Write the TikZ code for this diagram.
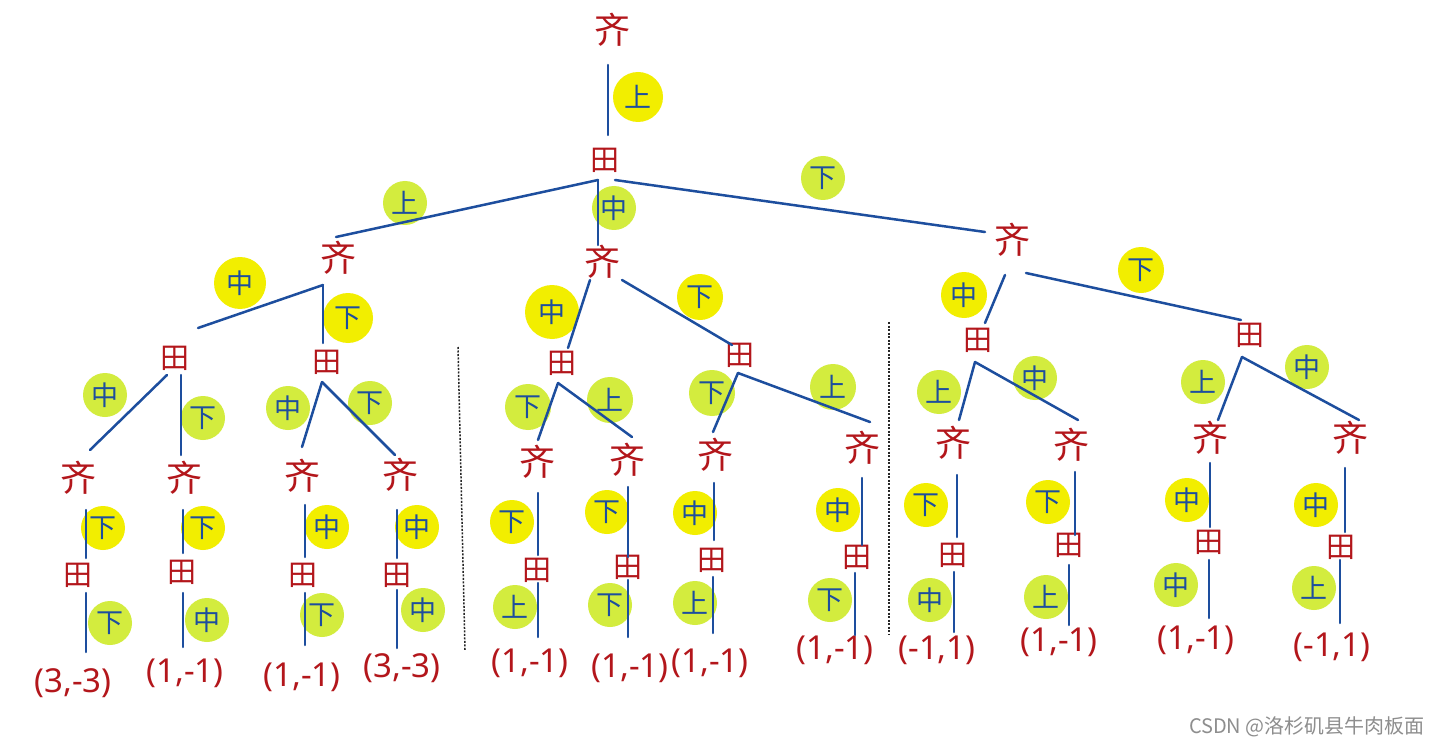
\documentclass[tikz,border=0pt]{standalone}
\usepackage{fontspec}
\setmainfont{Noto Sans}
\newfontfamily\cjk{Noto Sans CJK SC}
\definecolor{hred}{HTML}{B3161B}
\definecolor{hblue}{HTML}{1D4E9E}
\definecolor{hyel}{HTML}{F2EE00}
\definecolor{hgrn}{HTML}{D3EC3E}
\definecolor{wmark}{HTML}{8E8E8E}
\newcommand\E[6]{\draw[edge] ([shift={(#2,#3)}]#1.center) -- ([shift={(#5,#6)}]#4.center);}
\begin{document}
\begin{tikzpicture}[x=1pt,y=-1pt,
  qi/.style={text=hred, font=\cjk\fontsize{36}{36}\selectfont, inner sep=0pt},
  ti/.style={text=hred, font=\cjk\fontsize{29}{29}\selectfont, inner sep=0pt},
  res/.style={text=hred, font=\fontsize{33}{33}\selectfont, inner sep=0pt},
  edge/.style={draw=hblue, line width=2.5pt, line cap=round},
  ylab/.style={circle, fill=hyel, minimum size=44pt, inner sep=0pt, text=hblue, font=\cjk\fontsize{27}{27}\selectfont},
  glab/.style={ylab, fill=hgrn},
  divider/.style={draw=black!85, line width=1.5pt, dash pattern=on 2pt off 1.5pt}
]
\useasboundingbox (0,0) rectangle (1440,746);
\fill[white] (0,0) rectangle (1440,746);

% dividers
\draw[divider] (458,347) -- (465,650);
\draw[divider] (889,322) -- (889,635);

% label circles
\node[ylab, minimum size=50pt] (l0) at (638,97) {上};
\node[glab] (l1a) at (405,203) {上};
\node[glab] (l1b) at (614,208) {中};
\node[glab] (l1c) at (823,178) {下};
\node[ylab, minimum size=52pt] (l2a) at (240,283) {中};
\node[ylab, minimum size=50pt] (l2b) at (348,318) {下};
\node[ylab, minimum size=54pt] (l2c) at (552,312) {中};
\node[ylab, minimum size=46pt] (l2d) at (700,297) {下};
\node[ylab, minimum size=46pt] (l2e) at (964,295) {中};
\node[ylab, minimum size=46pt] (l2f) at (1141,270) {下};
\node[glab] (l3a) at (105,395) {中};
\node[glab] (l3b) at (203,418) {下};
\node[glab] (l3c) at (288,408) {中};
\node[glab] (l3d) at (370,403) {下};
\node[glab, minimum size=46pt] (l3e) at (528,407) {下};
\node[glab, minimum size=46pt] (l3f) at (610,400) {上};
\node[glab, minimum size=46pt] (l3g) at (712,393) {下};
\node[glab, minimum size=46pt] (l3h) at (833,387) {上};
\node[glab] (l3i) at (939,392) {上};
\node[glab] (l3j) at (1035,378) {中};
\node[glab] (l3k) at (1203,382) {上};
\node[glab] (l3l) at (1307,367) {中};
\node[ylab] (l4a) at (103,528) {下};
\node[ylab] (l4b) at (203,528) {下};
\node[ylab] (l4c) at (327,527) {中};
\node[ylab] (l4d) at (417,527) {中};
\node[ylab] (l4e) at (512,522) {下};
\node[ylab] (l4f) at (607,512) {下};
\node[ylab] (l4g) at (695,513) {中};
\node[ylab] (l4h) at (838,510) {中};
\node[ylab] (l4i) at (926,505) {下};
\node[ylab] (l4j) at (1048,502) {下};
\node[ylab] (l4k) at (1187,500) {中};
\node[ylab] (l4l) at (1316,505) {中};
\node[glab] (l5a) at (110,623) {下};
\node[glab] (l5b) at (207,620) {中};
\node[glab] (l5c) at (322,615) {下};
\node[glab] (l5d) at (423,610) {中};
\node[glab] (l5e) at (515,607) {上};
\node[glab] (l5f) at (610,605) {下};
\node[glab] (l5g) at (695,603) {上};
\node[glab] (l5h) at (830,600) {下};
\node[glab] (l5i) at (930,600) {中};
\node[glab] (l5j) at (1046,597) {上};
\node[glab] (l5k) at (1176,585) {中};
\node[glab] (l5l) at (1314,588) {上};

% Qi nodes
\node[qi] (q0) at (612,30) {齐};
\node[qi] (q1) at (338,258) {齐};
\node[qi] (q2) at (602,262) {齐};
\node[qi] (q3) at (1012,240) {齐};
\node[qi] (q111) at (78,478) {齐};
\node[qi] (q112) at (184,478) {齐};
\node[qi] (q121) at (302,476) {齐};
\node[qi] (q122) at (400,475) {齐};
\node[qi] (q211) at (537,462) {齐};
\node[qi] (q212) at (627,460) {齐};
\node[qi] (q221) at (715,455) {齐};
\node[qi] (q222) at (862,448) {齐};
\node[qi] (q311) at (953,443) {齐};
\node[qi] (q312) at (1071,445) {齐};
\node[qi] (q321) at (1210,438) {齐};
\node[qi] (q322) at (1350,438) {齐};

% Tian nodes
\node[ti] (t0) at (605,160) {田};
\node[ti] (t11) at (175,358) {田};
\node[ti] (t12) at (327,362) {田};
\node[ti] (t21) at (562,363) {田};
\node[ti] (t22) at (740,355) {田};
\node[ti] (t31) at (978,340) {田};
\node[ti] (t32) at (1250,335) {田};
\node[ti] (t111) at (78,575) {田};
\node[ti] (t112) at (182,572) {田};
\node[ti] (t121) at (303,575) {田};
\node[ti] (t122) at (397,575) {田};
\node[ti] (t211) at (537,570) {田};
\node[ti] (t212) at (628,567) {田};
\node[ti] (t221) at (712,560) {田};
\node[ti] (t222) at (857,557) {田};
\node[ti] (t311) at (953,555) {田};
\node[ti] (t312) at (1069,545) {田};
\node[ti] (t321) at (1209,542) {田};
\node[ti] (t322) at (1341,547) {田};

% results
\node[res] (r111) at (73,683) {(3,-3)};
\node[res] (r112) at (185,673) {(1,-1)};
\node[res] (r121) at (302,677) {(1,-1)};
\node[res] (r122) at (402,668) {(3,-3)};
\node[res] (r211) at (530,663) {(1,-1)};
\node[res] (r212) at (630,668) {(1,-1)};
\node[res] (r221) at (710,663) {(1,-1)};
\node[res] (r222) at (835,650) {(1,-1)};
\node[res] (r311) at (937,650) {(-1,1)};
\node[res] (r312) at (1059,642) {(1,-1)};
\node[res] (r321) at (1196,640) {(1,-1)};
\node[res] (r322) at (1332,647) {(-1,1)};

% edges: top
\E{q0}{-4}{35}{t0}{3}{-25}
\E{t0}{-7}{20}{q1}{-2}{-21}
\E{t0}{-7}{20}{q2}{-4}{-17}
\E{t0}{10}{20}{q3}{-27}{-8}
% left group
\E{q1}{-15}{27}{t11}{23}{-30}
\E{q1}{-15}{27}{t12}{-4}{-19}
\E{t11}{-8}{17}{q111}{12}{-28}
\E{t11}{6}{17}{q112}{-3}{-23}
\E{t12}{-5}{20}{q121}{0}{-29}
\E{t12}{-5}{20}{q122}{-5}{-20}
\E{q111}{8}{32}{t111}{8}{-17}
\E{t111}{8}{18}{r111}{13}{-31}
\E{q112}{-1}{32}{t112}{1}{-19}
\E{t112}{1}{21}{r112}{-2}{-26}
\E{q121}{3}{29}{t121}{2}{-18}
\E{t121}{2}{18}{r121}{3}{-32}
\E{q122}{-3}{35}{t122}{0}{-17}
\E{t122}{0}{15}{r122}{-5}{-20}
% middle group
\E{q2}{-12}{18}{t21}{6}{-15}
\E{q2}{20}{18}{t22}{-8}{-10}
\E{t21}{-4}{20}{q211}{1}{-22}
\E{t21}{-4}{20}{q212}{5}{-23}
\E{t22}{-2}{18}{q221}{-2}{-23}
\E{t22}{-2}{18}{q222}{8}{-26}
\E{q211}{1}{31}{t211}{1}{-15}
\E{t211}{1}{13}{r211}{8}{-26}
\E{q212}{1}{27}{t212}{0}{-10}
\E{t212}{0}{13}{r212}{-2}{-31}
\E{q221}{-1}{28}{t221}{2}{-20}
\E{t221}{1}{17}{r221}{3}{-30}
\E{q222}{0}{30}{t222}{5}{-12}
\E{t222}{-2}{16}{r222}{20}{-15}
% right group
\E{q3}{-7}{35}{t31}{7}{-17}
\E{q3}{14}{33}{t32}{-9}{-15}
\E{t31}{-3}{22}{q311}{6}{-23}
\E{t31}{-3}{22}{q312}{7}{-25}
\E{t32}{-8}{22}{q321}{8}{-18}
\E{t32}{-8}{22}{q322}{9}{-18}
\E{q311}{4}{32}{t311}{4}{-18}
\E{t311}{1}{17}{r311}{17}{-18}
\E{q312}{4}{27}{t312}{6}{-10}
\E{t312}{0}{20}{r312}{10}{-17}
\E{q321}{0}{25}{t321}{1}{-15}
\E{t321}{0}{18}{r321}{13}{-22}
\E{q322}{-5}{30}{t322}{4}{-15}
\E{t322}{-1}{13}{r322}{8}{-24}

% watermark
\node[anchor=east, text=wmark, font=\cjk\fontsize{20}{20}\selectfont, inner sep=0pt] (wm) at (1425,727) {CSDN @洛杉矶县牛肉板面};
\end{tikzpicture}
\end{document}
